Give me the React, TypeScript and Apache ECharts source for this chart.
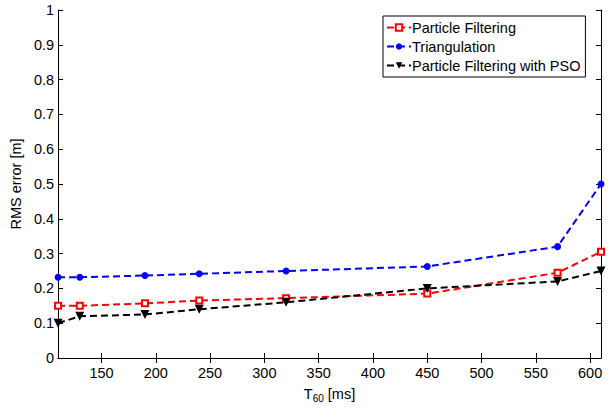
import React, { useEffect, useRef } from "react";
import * as echarts from "echarts";

const xValues = [110, 130, 190, 240, 320, 450, 570, 610];
const particleFiltering = [0.15, 0.15, 0.157, 0.165, 0.172, 0.185, 0.245, 0.305];
const triangulation = [0.232, 0.232, 0.237, 0.242, 0.25, 0.263, 0.32, 0.5];
const pfWithPso = [0.1, 0.12, 0.125, 0.14, 0.16, 0.2, 0.22, 0.25];
const xTicks = [150, 200, 250, 300, 350, 400, 450, 500, 550, 600];
const seriesNames = ["Particle Filtering", "Triangulation", "Particle Filtering with PSO"];

const FONT = "Liberation Sans, Arial, Helvetica, sans-serif";
const FS = 14.5;

export default function App() {
  const ref = useRef<HTMLDivElement>(null);
  useEffect(() => {
    if (!ref.current) return;
    const chart = echarts.init(ref.current, undefined, { renderer: "svg" });
    const pair = (ys: number[]) => xValues.map((x, i) => [x, ys[i]]);
    const axisLine = { show: true, lineStyle: { color: "#000", width: 1 } };
    const tickStyle = { show: true, inside: true, length: 5, lineStyle: { color: "#000" } };
    chart.setOption({
      animation: false,
      backgroundColor: "#fff",
      textStyle: { fontFamily: FONT },
      grid: { left: 55, right: 7, top: 10, bottom: 42 },
      legend: {
        orient: "vertical",
        left: 383,
        top: 16,
        data: seriesNames,
        backgroundColor: "#fff",
        borderColor: "#000",
        borderWidth: 1,
        borderRadius: 0,
        padding: [3, 5, 3, 3],
        itemGap: 2,
        itemWidth: 24,
        itemHeight: 8,
        textStyle: { fontSize: FS, color: "#000", fontFamily: FONT, padding: [0, 0, 0, -4], lineHeight: 17 },
      },
      xAxis: [
        {
          type: "value",
          min: 110,
          max: 610,
          position: "bottom",
          axisLine,
          axisTick: { ...tickStyle, customValues: xTicks },
          axisLabel: { customValues: xTicks, fontSize: FS, color: "#000", fontFamily: FONT, margin: 7 },
          splitLine: { show: false },
          name: "{a|T}{s|60}{a| [ms]}",
          nameLocation: "middle",
          nameGap: 26,
          nameTextStyle: {
            rich: {
              a: { fontSize: FS, color: "#000", fontFamily: FONT },
              s: { fontSize: 10, color: "#000", fontFamily: FONT, padding: [9, 0, 0, 0] },
            },
          },
        },
        {
          type: "value",
          min: 110,
          max: 610,
          position: "top",
          axisLine,
          axisTick: { ...tickStyle, customValues: xTicks },
          axisLabel: { show: false },
          splitLine: { show: false },
        },
      ],
      yAxis: [
        {
          type: "value",
          min: 0,
          max: 1,
          interval: 0.1,
          position: "left",
          axisLine,
          axisTick: tickStyle,
          axisLabel: {
            fontSize: FS,
            color: "#000",
            fontFamily: FONT,
            margin: 4,
            formatter: (v: number) => String(Math.round(v * 10) / 10),
          },
          splitLine: { show: false },
          name: "RMS error [m]",
          nameLocation: "middle",
          nameGap: 35,
          nameTextStyle: { fontSize: FS, color: "#000", fontFamily: FONT },
        },
        {
          type: "value",
          min: 0,
          max: 1,
          interval: 0.1,
          position: "right",
          axisLine,
          axisTick: tickStyle,
          axisLabel: { show: false },
          splitLine: { show: false },
        },
      ],
      series: [
        {
          name: seriesNames[0],
          type: "line",
          data: pair(particleFiltering),
          symbol: "rect",
          symbolSize: 6,
          lineStyle: { color: "#ff0000", width: 2, type: [7, 4] },
          itemStyle: { color: "#ffffff", borderColor: "#ff0000", borderWidth: 2 },
          z: 3,
        },
        {
          name: seriesNames[1],
          type: "line",
          data: pair(triangulation),
          symbol: "circle",
          symbolSize: 7,
          lineStyle: { color: "#0000ff", width: 2, type: [7, 4] },
          itemStyle: { color: "#0000ff" },
          z: 3,
        },
        {
          name: seriesNames[2],
          type: "line",
          data: pair(pfWithPso),
          symbol: "triangle",
          symbolRotate: 180,
          symbolSize: 9,
          lineStyle: { color: "#000000", width: 2, type: [7, 4] },
          itemStyle: { color: "#000000" },
          z: 3,
        },
      ],
    });
    return () => chart.dispose();
  }, []);
  return <div ref={ref} style={{ position: "fixed", left: 0, top: 0, width: 608, height: 408 }} />;
}
